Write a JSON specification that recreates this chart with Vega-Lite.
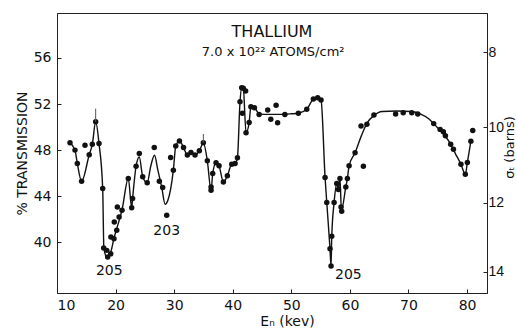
{
  "$schema": "https://vega.github.io/schema/vega-lite/v6.json",
  "width": 430,
  "height": 280,
  "autosize": "none",
  "padding": {"left": 57, "top": 13, "right": 30, "bottom": 35},
  "background": "white",
  "config": {
    "view": {"stroke": "#222", "strokeWidth": 1},
    "font": "DejaVu Sans",
    "axis": {"grid": false, "domainColor": "#222", "tickColor": "#222", "labelColor": "#111", "titleColor": "#111", "labelFontSize": 14, "titleFontSize": 14, "titleFontWeight": "normal", "labelFont": "DejaVu Sans", "titleFont": "DejaVu Sans"}
  },
  "datasets": {
    "points": [
      {"E": 12.22, "T": 48.63}, {"E": 13.07, "T": 48.0}, {"E": 13.47, "T": 46.84}, {"E": 14.2, "T": 45.3},
      {"E": 14.78, "T": 48.43}, {"E": 15.5, "T": 47.6}, {"E": 16.03, "T": 48.5}, {"E": 16.6, "T": 50.46},
      {"E": 17.17, "T": 48.58}, {"E": 17.8, "T": 44.67}, {"E": 17.97, "T": 39.5}, {"E": 18.5, "T": 39.3},
      {"E": 18.65, "T": 38.72}, {"E": 19.17, "T": 39.0}, {"E": 19.2, "T": 40.46}, {"E": 19.73, "T": 40.3},
      {"E": 19.78, "T": 41.77}, {"E": 20.2, "T": 41.04}, {"E": 20.6, "T": 42.2}, {"E": 20.3, "T": 43.07},
      {"E": 21.1, "T": 42.78}, {"E": 22.17, "T": 45.54}, {"E": 22.75, "T": 43.0}, {"E": 22.9, "T": 43.8},
      {"E": 23.5, "T": 46.6}, {"E": 24.05, "T": 47.7}, {"E": 24.63, "T": 45.68}, {"E": 25.4, "T": 45.16},
      {"E": 26.6, "T": 48.23}, {"E": 27.47, "T": 45.3}, {"E": 28.04, "T": 44.75}, {"E": 28.73, "T": 42.35},
      {"E": 29.4, "T": 47.36}, {"E": 29.86, "T": 46.26}, {"E": 30.27, "T": 48.35}, {"E": 30.9, "T": 48.8},
      {"E": 31.6, "T": 48.23}, {"E": 32.25, "T": 47.57}, {"E": 32.87, "T": 47.8}, {"E": 33.56, "T": 47.57},
      {"E": 34.3, "T": 47.94}, {"E": 34.98, "T": 48.63}, {"E": 35.66, "T": 47.07}, {"E": 36.3, "T": 44.8},
      {"E": 36.3, "T": 44.52}, {"E": 36.58, "T": 45.97}, {"E": 37.15, "T": 46.9}, {"E": 37.66, "T": 46.64},
      {"E": 38.4, "T": 45.24}, {"E": 39.08, "T": 45.77}, {"E": 39.83, "T": 46.78}, {"E": 40.4, "T": 46.84},
      {"E": 40.8, "T": 47.33}, {"E": 41.24, "T": 52.2}, {"E": 41.53, "T": 53.42}, {"E": 41.8, "T": 53.36},
      {"E": 42.2, "T": 53.13}, {"E": 41.64, "T": 51.2}, {"E": 42.27, "T": 49.5}, {"E": 42.8, "T": 50.4},
      {"E": 43.1, "T": 51.77}, {"E": 43.7, "T": 51.68}, {"E": 44.5, "T": 51.1}, {"E": 45.97, "T": 51.48},
      {"E": 46.5, "T": 50.67}, {"E": 47.4, "T": 51.9}, {"E": 47.66, "T": 50.37}, {"E": 48.9, "T": 51.1},
      {"E": 51.2, "T": 51.2}, {"E": 52.63, "T": 51.54}, {"E": 53.76, "T": 52.43}, {"E": 54.5, "T": 52.55},
      {"E": 55.07, "T": 52.35}, {"E": 55.76, "T": 45.63}, {"E": 56.05, "T": 43.45}, {"E": 56.6, "T": 39.45},
      {"E": 56.78, "T": 37.94}, {"E": 56.9, "T": 40.52}, {"E": 57.3, "T": 43.45}, {"E": 57.75, "T": 45.1},
      {"E": 58.03, "T": 44.58}, {"E": 58.3, "T": 45.54}, {"E": 58.49, "T": 43.07}, {"E": 58.6, "T": 42.7},
      {"E": 59.3, "T": 44.8}, {"E": 59.57, "T": 45.54}, {"E": 59.86, "T": 46.64}, {"E": 60.88, "T": 47.77},
      {"E": 61.9, "T": 50.1}, {"E": 62.3, "T": 46.6}, {"E": 62.9, "T": 50.25}, {"E": 64.1, "T": 51.05},
      {"E": 67.8, "T": 51.13}, {"E": 69.1, "T": 51.24}, {"E": 70.56, "T": 51.24}, {"E": 71.58, "T": 51.13},
      {"E": 74.3, "T": 50.3}, {"E": 75.4, "T": 49.8}, {"E": 75.95, "T": 49.6}, {"E": 76.3, "T": 49.24},
      {"E": 77.2, "T": 48.5}, {"E": 77.67, "T": 48.08}, {"E": 78.95, "T": 46.77}, {"E": 79.7, "T": 45.9},
      {"E": 80.05, "T": 46.93}, {"E": 80.65, "T": 48.78}, {"E": 80.97, "T": 49.7}
    ],
    "curve": [
      {"E": 12.22, "T": 48.63}, {"E": 13.07, "T": 48.0}, {"E": 13.47, "T": 46.84}, {"E": 14.2, "T": 45.3},
      {"E": 15.5, "T": 47.6}, {"E": 16.03, "T": 48.5}, {"E": 16.6, "T": 50.46}, {"E": 17.17, "T": 48.58},
      {"E": 17.8, "T": 44.67}, {"E": 18.0, "T": 39.5}, {"E": 18.6, "T": 38.6}, {"E": 19.2, "T": 39.2},
      {"E": 19.75, "T": 40.4}, {"E": 20.2, "T": 41.2}, {"E": 21.1, "T": 42.8}, {"E": 22.17, "T": 45.54},
      {"E": 22.75, "T": 43.0}, {"E": 22.9, "T": 43.8}, {"E": 23.5, "T": 46.6}, {"E": 24.05, "T": 47.4},
      {"E": 24.63, "T": 45.68}, {"E": 25.4, "T": 45.16}, {"E": 26.0, "T": 46.6}, {"E": 26.65, "T": 47.55},
      {"E": 27.2, "T": 46.3}, {"E": 27.9, "T": 44.7}, {"E": 28.45, "T": 43.3}, {"E": 28.9, "T": 43.6},
      {"E": 29.86, "T": 46.26}, {"E": 30.27, "T": 48.35}, {"E": 30.9, "T": 48.8}, {"E": 31.6, "T": 48.23},
      {"E": 32.25, "T": 47.57}, {"E": 32.87, "T": 47.8}, {"E": 33.56, "T": 47.57}, {"E": 34.3, "T": 47.94},
      {"E": 34.98, "T": 48.63}, {"E": 35.66, "T": 47.07}, {"E": 36.3, "T": 44.5}, {"E": 36.58, "T": 45.97},
      {"E": 37.15, "T": 46.9}, {"E": 37.66, "T": 46.64}, {"E": 38.4, "T": 45.24}, {"E": 39.08, "T": 45.77},
      {"E": 39.83, "T": 46.78}, {"E": 40.4, "T": 46.84}, {"E": 40.8, "T": 47.33}, {"E": 41.24, "T": 52.2},
      {"E": 41.53, "T": 53.42}, {"E": 41.8, "T": 53.36}, {"E": 42.27, "T": 49.5}, {"E": 42.8, "T": 50.4},
      {"E": 43.1, "T": 51.77}, {"E": 43.7, "T": 51.68}, {"E": 44.5, "T": 51.15}, {"E": 46.0, "T": 51.1},
      {"E": 48.0, "T": 51.1}, {"E": 50.0, "T": 51.15}, {"E": 51.2, "T": 51.2}, {"E": 52.63, "T": 51.54},
      {"E": 53.76, "T": 52.43}, {"E": 54.5, "T": 52.55}, {"E": 55.07, "T": 52.35}, {"E": 55.76, "T": 45.63},
      {"E": 56.05, "T": 43.45}, {"E": 56.6, "T": 39.45}, {"E": 56.78, "T": 37.94}, {"E": 56.9, "T": 40.52},
      {"E": 57.3, "T": 43.45}, {"E": 57.75, "T": 45.1}, {"E": 58.03, "T": 44.58}, {"E": 58.3, "T": 45.54},
      {"E": 58.55, "T": 42.8}, {"E": 59.3, "T": 44.8}, {"E": 59.57, "T": 45.54}, {"E": 59.86, "T": 46.64},
      {"E": 60.88, "T": 47.77}, {"E": 62.0, "T": 49.3}, {"E": 63.0, "T": 50.4}, {"E": 64.1, "T": 51.0},
      {"E": 65.5, "T": 51.35}, {"E": 68.0, "T": 51.4}, {"E": 70.5, "T": 51.35}, {"E": 72.0, "T": 51.15},
      {"E": 73.5, "T": 50.7}, {"E": 74.3, "T": 50.3}, {"E": 75.4, "T": 49.7}, {"E": 76.3, "T": 49.2},
      {"E": 77.2, "T": 48.5}, {"E": 78.0, "T": 47.7}, {"E": 78.95, "T": 46.77}, {"E": 79.7, "T": 45.9},
      {"E": 80.05, "T": 46.93}, {"E": 80.65, "T": 48.78}
    ],
    "errors": [
      {"E": 16.6, "lo": 50.46, "hi": 51.6},
      {"E": 34.98, "lo": 48.63, "hi": 49.4}
    ],
    "labels": [
      {"E": 46.7, "T": 58.23, "text": "THALLIUM", "kind": "title"},
      {"E": 46.9, "T": 56.5, "text": "7.0 x 10²² ATOMS/cm²", "kind": "sub"},
      {"E": 18.93, "T": 37.5, "text": "205", "kind": "peak"},
      {"E": 28.73, "T": 40.95, "text": "203", "kind": "peak"},
      {"E": 59.73, "T": 37.13, "text": "205", "kind": "peak"}
    ]
  },
  "layer": [
    {
      "layer": [
        {
          "data": {"name": "curve"},
          "mark": {"type": "line", "color": "#111", "strokeWidth": 1.4, "interpolate": "monotone"},
          "encoding": {
            "x": {"field": "E", "type": "quantitative", "scale": {"domain": [10, 83.4], "nice": false, "zero": false},
              "axis": {"values": [10, 20, 30, 40, 50, 60, 70, 80], "title": "Eₙ (kev)", "tickSize": -4, "labelPadding": 9, "titleX": 230, "titlePadding": 2}},
            "y": {"field": "T", "type": "quantitative", "scale": {"domain": [35.6, 59.9], "nice": false, "zero": false},
              "axis": {"values": [40, 44, 48, 52, 56], "title": "% TRANSMISSION", "tickSize": -4, "labelPadding": 10, "titlePadding": 4}}
          }
        },
        {
          "data": {"name": "points"},
          "mark": {"type": "circle", "color": "#111", "size": 30, "opacity": 1},
          "encoding": {
            "x": {"field": "E", "type": "quantitative"},
            "y": {"field": "T", "type": "quantitative"}
          }
        },
        {
          "data": {"name": "errors"},
          "mark": {"type": "rule", "color": "#555", "strokeWidth": 1},
          "encoding": {
            "x": {"field": "E", "type": "quantitative"},
            "y": {"field": "lo", "type": "quantitative"},
            "y2": {"field": "hi"}
          }
        },
        {
          "data": {"name": "labels"},
          "transform": [{"filter": "datum.kind == 'title'"}],
          "mark": {"type": "text", "fontSize": 16, "color": "#111", "align": "center", "baseline": "middle"},
          "encoding": {
            "x": {"field": "E", "type": "quantitative"},
            "y": {"field": "T", "type": "quantitative"},
            "text": {"field": "text"}
          }
        },
        {
          "data": {"name": "labels"},
          "transform": [{"filter": "datum.kind == 'sub'"}],
          "mark": {"type": "text", "fontSize": 13, "color": "#111", "align": "center", "baseline": "middle"},
          "encoding": {
            "x": {"field": "E", "type": "quantitative"},
            "y": {"field": "T", "type": "quantitative"},
            "text": {"field": "text"}
          }
        },
        {
          "data": {"name": "labels"},
          "transform": [{"filter": "datum.kind == 'peak'"}],
          "mark": {"type": "text", "fontSize": 14, "color": "#111", "align": "center", "baseline": "middle"},
          "encoding": {
            "x": {"field": "E", "type": "quantitative"},
            "y": {"field": "T", "type": "quantitative"},
            "text": {"field": "text"}
          }
        }
      ]
    },
    {
      "data": {"name": "points"},
      "mark": {"type": "point", "opacity": 0},
      "encoding": {
        "x": {"field": "E", "type": "quantitative"},
        "y": {"field": "T", "type": "quantitative", "scale": {"domain": [35.6, 59.9], "nice": false, "zero": false},
          "axis": {"orient": "right", "values": [56.5, 50.0, 43.45, 37.45], "labelExpr": "format(-log(datum.value/100)/0.07, '.0f')", "title": "σₜ (barns)", "titleAngle": 270, "titleFontSize": 13, "titleX": 22, "titleY": 134, "titleAlign": "center", "titleBaseline": "middle", "labelFont": "Liberation Sans", "tickSize": -4, "labelPadding": 5}}
      }
    }
  ],
  "resolve": {"scale": {"y": "independent"}, "axis": {"y": "independent"}}
}
